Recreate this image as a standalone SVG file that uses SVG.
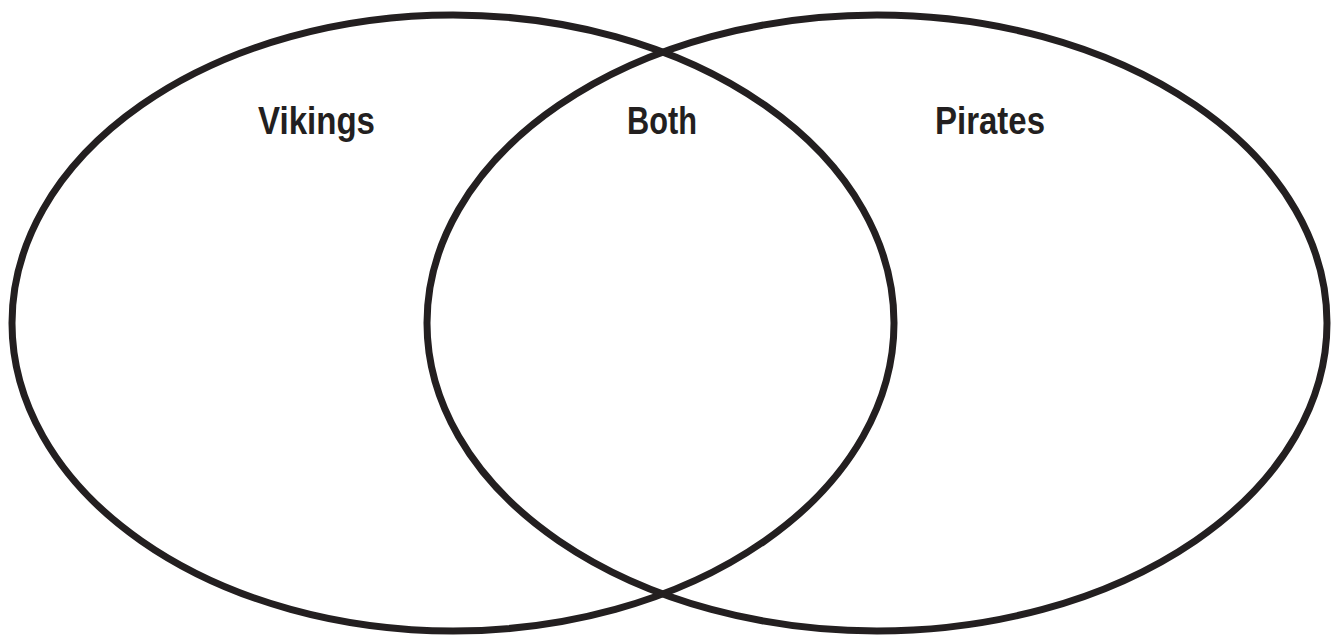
<svg xmlns="http://www.w3.org/2000/svg" width="1339" height="636" viewBox="0 0 1339 636">
  <style>
    .ring { fill: none; stroke: #231f20; stroke-width: 7; }
    .label { font-family: "Liberation Sans", Arial, sans-serif; font-weight: bold; font-size: 39px; fill: #231f20; }
  </style>
  <rect width="1339" height="636" fill="#ffffff"/>
  <g id="vikings">
    <ellipse class="ring" cx="453" cy="323" rx="441" ry="308"/>
    <text class="label" x="258" y="134" textLength="117" lengthAdjust="spacingAndGlyphs">Vikings</text>
  </g>
  <g id="pirates">
    <ellipse class="ring" cx="877" cy="323" rx="450" ry="308"/>
    <text class="label" x="935" y="134" textLength="110" lengthAdjust="spacingAndGlyphs">Pirates</text>
  </g>
  <g id="both">
    <text class="label" x="627" y="134" textLength="70" lengthAdjust="spacingAndGlyphs">Both</text>
  </g>
  <g id="connectors"></g>
</svg>
